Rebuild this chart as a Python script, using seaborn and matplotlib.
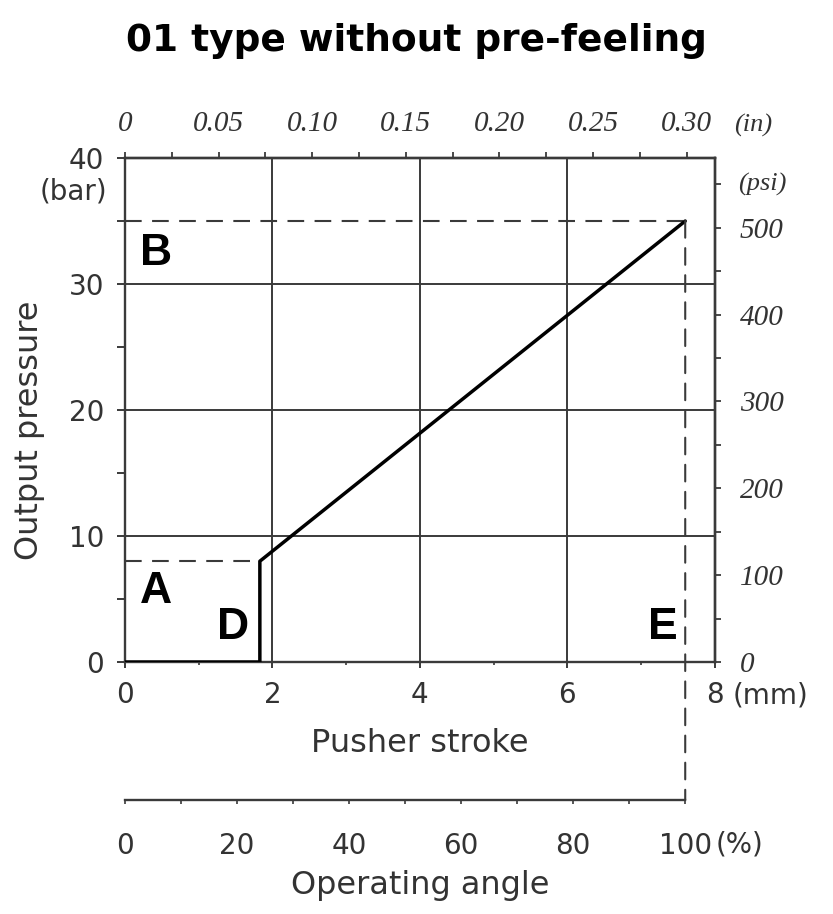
import matplotlib
matplotlib.use("Agg")
import matplotlib.pyplot as plt
from matplotlib.patches import ConnectionPatch
from matplotlib.ticker import MultipleLocator
import seaborn as sns
import pandas as pd

# characteristic curve: pusher stroke (mm) -> output pressure (bar)
stroke_mm = [0.0, 1.83, 1.83, 7.6]
pressure_bar = [0.0, 0.0, 8.0, 35.0]

full_stroke_mm = 7.6      # stroke at 100 % operating angle
pressure_a_bar = 8.0      # point A
pressure_b_bar = 35.0     # point B
stroke_d_mm = 1.83        # point D

MM_PER_IN = 25.4
PSI_PER_BAR = 14.5038

mm_ticks = [0, 2, 4, 6, 8]
bar_ticks = [0, 10, 20, 30, 40]
in_ticks = [0, 0.05, 0.10, 0.15, 0.20, 0.25, 0.30]
in_labels = ['0', '0.05', '0.10', '0.15', '0.20', '0.25', '0.30']
psi_ticks = [0, 100, 200, 300, 400, 500]
angle_ticks = [0, 20, 40, 60, 80, 100]

# region letters (stroke mm, pressure bar)
letter_names = ['A', 'B', 'D', 'E']
letter_x = [0.42, 0.42, 1.46, 7.3]
letter_y = [5.6, 32.4, 2.7, 2.7]

sns.set_style('ticks')
plt.rcParams['font.family'] = ['DejaVu Sans']
plt.rcParams['axes.edgecolor'] = '#3a3a3a'
plt.rcParams['xtick.color'] = '#3a3a3a'
plt.rcParams['ytick.color'] = '#3a3a3a'
plt.rcParams['xtick.labelcolor'] = '#333333'
plt.rcParams['ytick.labelcolor'] = '#333333'

LINE_C = '#3a3a3a'
TXT_C = '#333333'
SERIF = ['Liberation Serif', 'DejaVu Serif']
DASH = (0, (8, 5))
FS_TICK = 20
FS_LABEL = 23

fig = plt.figure(figsize=(8.33, 9.14), dpi=100)
ax = fig.add_axes([0.150, 0.2757, 0.708, 0.5514])

df = pd.DataFrame({'stroke': stroke_mm, 'pressure': pressure_bar})
sns.lineplot(data=df, x='stroke', y='pressure', sort=False, estimator=None,
             color='black', linewidth=2.5, ax=ax, zorder=5)

ax.set_xlim(0, 8)
ax.set_ylim(0, 40)
for s in ax.spines.values():
    s.set_linewidth(1.7)
    s.set_color(LINE_C)

ax.set_xticks(mm_ticks)
ax.set_yticks(bar_ticks)
ax.xaxis.set_minor_locator(MultipleLocator(1))
ax.yaxis.set_minor_locator(MultipleLocator(5))
ax.tick_params(axis='x', which='major', length=4, width=1.4, pad=10, labelsize=FS_TICK)
ax.tick_params(axis='x', which='minor', length=2, width=1.2)
ax.tick_params(axis='y', which='both', length=6, width=1.4, pad=9, labelsize=FS_TICK)
ax.grid(True, which='major', color=LINE_C, linewidth=1.4)

ax.set_xlabel('Pusher stroke', fontsize=FS_LABEL, color=TXT_C, labelpad=13)
ax.set_ylabel('Output pressure', fontsize=FS_LABEL, color=TXT_C)
ax.yaxis.set_label_coords(-0.136, 0.46)

# unit labels on the main axes
ax.annotate('(mm)', xy=(8, 0), xycoords=('data', 'axes fraction'),
            xytext=(13, -14), textcoords='offset points', ha='left', va='top',
            fontsize=FS_TICK, color=TXT_C)
ax.annotate('(bar)', xy=(0, 40), xycoords='data',
            xytext=(-13, -14), textcoords='offset points', ha='right', va='top',
            fontsize=FS_TICK, color=TXT_C)

# top axis: inches
sec_top = ax.secondary_xaxis('top', functions=(lambda v: v / MM_PER_IN,
                                               lambda v: v * MM_PER_IN))
sec_top.set_xticks(in_ticks, in_labels, fontstyle='italic', family=SERIF,
                   fontsize=21, color=TXT_C)
sec_top.xaxis.set_minor_locator(MultipleLocator(0.025))
sec_top.tick_params(axis='x', which='both', length=4, width=1.3, pad=11)
sec_top.spines['top'].set_linewidth(1.7)
ax.annotate('(in)', xy=(0.30 * MM_PER_IN, 1), xycoords=('data', 'axes fraction'),
            xytext=(34, 15.5), textcoords='offset points', ha='left', va='bottom',
            fontsize=19, fontstyle='italic', family=SERIF, color=TXT_C)

# right axis: psi
sec_right = ax.secondary_yaxis('right', functions=(lambda v: v * PSI_PER_BAR,
                                                   lambda v: v / PSI_PER_BAR))
sec_right.set_yticks(psi_ticks, [str(p) for p in psi_ticks], fontstyle='italic',
                     family=SERIF, fontsize=21, color=TXT_C)
sec_right.yaxis.set_minor_locator(MultipleLocator(50))
sec_right.tick_params(axis='y', which='both', length=4, width=1.3, pad=14)
sec_right.spines['right'].set_linewidth(1.7)
ax.annotate('(psi)', xy=(1, 550 / PSI_PER_BAR), xycoords=('axes fraction', 'data'),
            xytext=(17, 0), textcoords='offset points', ha='left', va='center',
            fontsize=19, fontstyle='italic', family=SERIF, color=TXT_C)

# dashed guides for A and B
ax.plot([0, stroke_d_mm], [pressure_a_bar, pressure_a_bar], color=LINE_C,
        linestyle=DASH, linewidth=1.5, zorder=4)
ax.plot([0, full_stroke_mm], [pressure_b_bar, pressure_b_bar], color=LINE_C,
        linestyle=DASH, linewidth=1.5, zorder=4)

# region letters
for name, lx, ly in zip(letter_names, letter_x, letter_y):
    ax.text(lx, ly, name, ha='center', va='center', fontsize=32, fontweight='bold',
            family=['Liberation Sans', 'DejaVu Sans'], color='black', zorder=6)

# operating angle scale below
ax_ang = fig.add_axes([0.150, 0.1247, 0.708, 0.001])
ax_ang.set_xlim(0, 8 * 100 / full_stroke_mm)
ax_ang.set_ylim(0, 1)
ax_ang.set_yticks([])
for k in ['top', 'left', 'right']:
    ax_ang.spines[k].set_visible(False)
ax_ang.spines['bottom'].set_bounds(0, 100)
ax_ang.spines['bottom'].set_linewidth(1.7)
ax_ang.spines['bottom'].set_color(LINE_C)
ax_ang.patch.set_visible(False)
ax_ang.set_xticks(angle_ticks)
ax_ang.xaxis.set_minor_locator(MultipleLocator(10))
ax_ang.tick_params(axis='x', which='both', length=3, width=1.2, pad=20, labelsize=FS_TICK)
ax_ang.set_xlabel('Operating angle', fontsize=FS_LABEL, color=TXT_C, labelpad=7)
ax_ang.annotate('(%)', xy=(100, 0), xycoords='data',
                xytext=(22, -22), textcoords='offset points', ha='left', va='top',
                fontsize=FS_TICK, color=TXT_C)

# dashed guide for E down to 100 %
con = ConnectionPatch(xyA=(full_stroke_mm, pressure_b_bar), coordsA=ax.transData,
                      xyB=(100, 0), coordsB=ax_ang.transData, color=LINE_C,
                      linestyle=DASH, linewidth=1.5, zorder=4)
fig.add_artist(con)

fig.suptitle('01 type without pre-feeling', fontsize=27, fontweight='bold',
             y=0.975, color='black')

fig.savefig('out.png', dpi=100)
